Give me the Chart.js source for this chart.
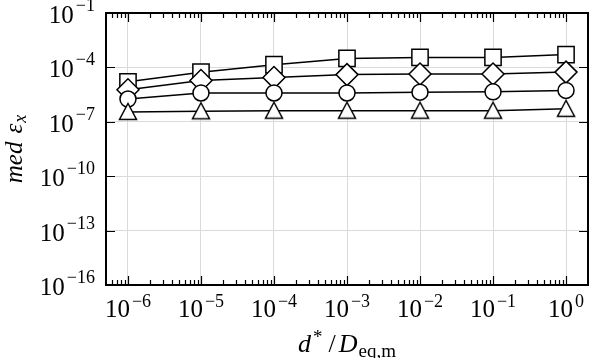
<!DOCTYPE html>
<html>
<head>
<meta charset="utf-8">
<script src="https://cdn.jsdelivr.net/npm/chart.js@4.4.1/dist/chart.umd.min.js"></script>
<style>
  html, body { margin: 0; padding: 0; background: #fff; }
  #wrap { width: 589px; height: 358px; position: relative; }
</style>
</head>
<body>
<div id="wrap"><canvas id="chart"></canvas></div>
<script>
// x positions (d*/D_eq,m)
const ratios = [1e-6, 1e-5, 1e-4, 1e-3, 1e-2, 1e-1, 1e0];

// median strain error, one array per marker
const squareVals   = [1.6e-5, 5.4e-5, 1.4e-4, 3.1e-4, 3.55e-4, 3.55e-4, 5.1e-4];
const diamondVals  = [5.9e-6, 1.9e-5, 2.75e-5, 4.0e-5, 4.3e-5, 4.3e-5, 5.5e-5];
const circleVals   = [1.8e-6, 3.9e-6, 3.9e-6, 3.9e-6, 4.3e-6, 4.5e-6, 5.4e-6];
const triangleVals = [3.5e-7, 3.8e-7, 4.1e-7, 4.1e-7, 4.1e-7, 4.1e-7, 5.2e-7];

// tick values and their exponent labels
const xTicks = [1e-6, 1e-5, 1e-4, 1e-3, 1e-2, 1e-1, 1e0];
const xTickExp = ["\u22126", "\u22125", "\u22124", "\u22123", "\u22122", "\u22121", "0"];
const yTicks = [1e-1, 1e-4, 1e-7, 1e-10, 1e-13, 1e-16];
const yTickExp = ["\u22121", "\u22124", "\u22127", "\u221210", "\u221213", "\u221216"];

const SERIF = "'Liberation Serif', 'DejaVu Serif', serif";

// triangle marker centred on its bounding box (like MATLAB's '^')
function makeTriangle() {
  const c = document.createElement("canvas");
  c.width = 22; c.height = 22;
  const t = c.getContext("2d");
  t.lineWidth = 1.5;
  t.strokeStyle = "#000";
  t.fillStyle = "#fff";
  t.beginPath();
  t.moveTo(11, 2.5);
  t.lineTo(19.5, 18.5);
  t.lineTo(2.5, 18.5);
  t.closePath();
  t.fill();
  t.stroke();
  return c;
}

// draw "10^exp" with a raised exponent
function drawPow(ctx, x, baseY, expY, exp, align) {
  ctx.font = "25px " + SERIF;
  const wb = ctx.measureText("10").width;
  ctx.font = "18px " + SERIF;
  const we = ctx.measureText(exp).width;
  const gap = 2;
  const total = wb + gap + we;
  const start = align === "right" ? x - total : x - total / 2;
  ctx.textAlign = "left";
  ctx.textBaseline = "alphabetic";
  ctx.font = "25px " + SERIF;
  ctx.fillText("10", start, baseY);
  ctx.font = "18px " + SERIF;
  ctx.fillText(exp, start + wb + gap, expY);
}

// draws a list of [text, font, dx before, dy] pieces centered on cx
function drawPieces(ctx, pieces, cx, y) {
  let total = 0;
  pieces.forEach(p => { ctx.font = p[1]; total += p[2] + ctx.measureText(p[0]).width; });
  let x = cx - total / 2;
  ctx.textAlign = "left";
  ctx.textBaseline = "alphabetic";
  pieces.forEach(p => {
    ctx.font = p[1];
    x += p[2];
    ctx.fillText(p[0], x, y + p[3]);
    x += ctx.measureText(p[0]).width;
  });
}

// frame, inward ticks, tick labels and axis titles
const axesPlugin = {
  id: "axesPlugin",
  afterDraw(chart) {
    const ctx = chart.ctx;
    const a = chart.chartArea;
    const xs = chart.scales.x, ys = chart.scales.y;
    ctx.save();
    ctx.strokeStyle = "#000";
    ctx.fillStyle = "#000";

    // ticks
    ctx.lineWidth = 1.2;
    ctx.beginPath();
    for (let e = -7; e <= 0; e++) {
      for (let m = 1; m <= 9; m++) {
        const v = m * Math.pow(10, e);
        if (v <= xs.min || v >= xs.max) continue;
        const px = Math.round(xs.getPixelForValue(v)) + 0.5;
        const len = m === 1 ? 9 : 5;
        ctx.moveTo(px, a.bottom); ctx.lineTo(px, a.bottom - len);
        ctx.moveTo(px, a.top); ctx.lineTo(px, a.top + len);
      }
    }
    yTicks.forEach(v => {
      const py = Math.round(ys.getPixelForValue(v)) + 0.5;
      ctx.moveTo(a.left, py); ctx.lineTo(a.left + 9, py);
      ctx.moveTo(a.right, py); ctx.lineTo(a.right - 9, py);
    });
    ctx.stroke();

    // box
    ctx.lineWidth = 2;
    ctx.strokeRect(a.left, a.top, a.right - a.left, a.bottom - a.top);

    // tick labels
    xTicks.forEach((v, i) => {
      drawPow(ctx, xs.getPixelForValue(v), 317, 307, xTickExp[i], "center");
    });
    yTicks.forEach((v, i) => {
      const py = ys.getPixelForValue(v);
      drawPow(ctx, 95, py + 10, py - 2, yTickExp[i], "right");
    });

    // x title: d*/D_eq,m
    drawPieces(ctx, [
      ["d", "italic 26px " + SERIF, 0, 0],
      ["*", "19px " + SERIF, 2, -9],
      ["/", "26px " + SERIF, 6, 0],
      ["D", "italic 26px " + SERIF, 3, 0],
      ["eq,m", "19px " + SERIF, 1, 5]
    ], (a.left + a.right) / 2, 352);

    // y title: med eps_x (rotated)
    ctx.save();
    ctx.translate(22, (a.top + a.bottom) / 2);
    ctx.rotate(-Math.PI / 2);
    drawPieces(ctx, [
      ["med", "italic 25px " + SERIF, 0, 0],
      ["\u03b5", "italic 25px " + SERIF, 8, 0],
      ["x", "italic 18px " + SERIF, 1, 4]
    ], 0, 0);
    ctx.restore();

    ctx.restore();
  }
};

function series(data, style, radius, order) {
  return {
    data: ratios.map((r, i) => ({ x: r, y: data[i] })),
    borderColor: "#000",
    borderWidth: 1.5,
    pointStyle: style,
    pointRadius: radius,
    pointBorderWidth: 1.5,
    pointBackgroundColor: "#fff",
    pointBorderColor: "#000",
    showLine: true,
    fill: false,
    order: order
  };
}

const noPad = s => { s.paddingLeft = 0; s.paddingRight = 0; s.paddingTop = 0; s.paddingBottom = 0; };

new Chart(document.getElementById("chart"), {
  type: "scatter",
  data: {
    datasets: [
      series(squareVals, "rect", 11.5, 3),
      series(diamondVals, "rectRot", 11, 2),
      series(circleVals, "circle", 8, 1),
      series(triangleVals, makeTriangle(), 10, 0)
    ]
  },
  options: {
    responsive: true,
    maintainAspectRatio: false,
    animation: false,
    layout: { autoPadding: false, padding: { left: 106, right: 1, top: 13, bottom: 73 } },
    plugins: { legend: { display: false }, tooltip: { enabled: false } },
    scales: {
      x: {
        type: "logarithmic",
        min: 5e-7,
        max: 2,
        afterBuildTicks: s => { s.ticks = xTicks.map(v => ({ value: v })); },
        afterFit: noPad,
        grid: { color: "#dadada", lineWidth: 1, drawTicks: false },
        border: { display: false },
        ticks: { display: false }
      },
      y: {
        type: "logarithmic",
        min: 1e-16,
        max: 1e-1,
        afterBuildTicks: s => { s.ticks = yTicks.map(v => ({ value: v })); },
        afterFit: noPad,
        grid: { color: "#dadada", lineWidth: 1, drawTicks: false },
        border: { display: false },
        ticks: { display: false }
      }
    }
  },
  plugins: [axesPlugin]
});
</script>
</body>
</html>
